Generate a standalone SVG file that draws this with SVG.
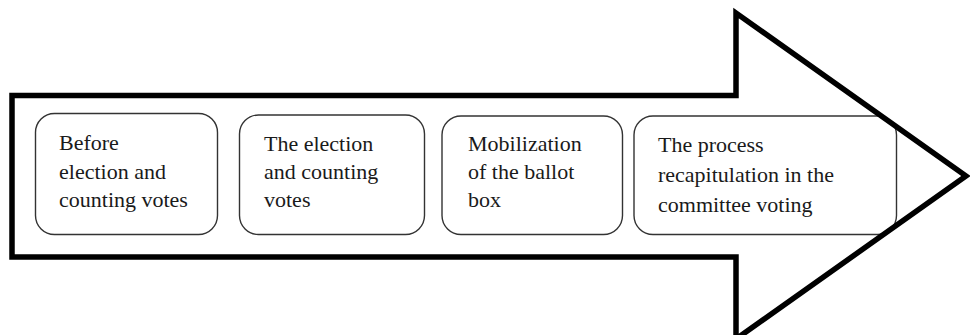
<svg xmlns="http://www.w3.org/2000/svg" width="970" height="335" viewBox="0 0 970 335">
<style>
.box{fill:#fff;stroke:#333;stroke-width:1.4}
.lbl{font-family:"Liberation Serif","Times New Roman",serif;font-size:22px;fill:#1a1a1a}
.arrow{fill:none;stroke:#000;stroke-width:5.5;stroke-linejoin:miter;stroke-miterlimit:10}
</style>
<rect x="0" y="0" width="970" height="335" fill="#fff"/>
<g id="step1">
<rect class="box" x="35.5" y="113.5" width="182" height="121" rx="19" ry="19"/>
<text class="lbl" x="59" y="150">Before</text>
<text class="lbl" x="59" y="178.5">election and</text>
<text class="lbl" x="59" y="207">counting votes</text>
</g>
<g id="step2">
<rect class="box" x="239.5" y="115" width="185" height="119.5" rx="19" ry="19"/>
<text class="lbl" x="264" y="151">The election</text>
<text class="lbl" x="264" y="179">and counting</text>
<text class="lbl" x="264" y="207">votes</text>
</g>
<g id="step3">
<rect class="box" x="442" y="116" width="180.5" height="118.5" rx="19" ry="19"/>
<text class="lbl" x="468" y="151">Mobilization</text>
<text class="lbl" x="468" y="179">of the ballot</text>
<text class="lbl" x="468" y="207">box</text>
</g>
<g id="step4">
<rect class="box" x="634" y="116" width="262.5" height="118.5" rx="19" ry="19"/>
<text class="lbl" x="658" y="152">The process</text>
<text class="lbl" x="658" y="182">recapitulation in the</text>
<text class="lbl" x="658" y="212">committee voting</text>
</g>
<g id="arrow">
<polygon class="arrow" points="12,95.5 736,95.5 736,13 966,176 736,339 736,257 12,257"/>
</g>
</svg>
